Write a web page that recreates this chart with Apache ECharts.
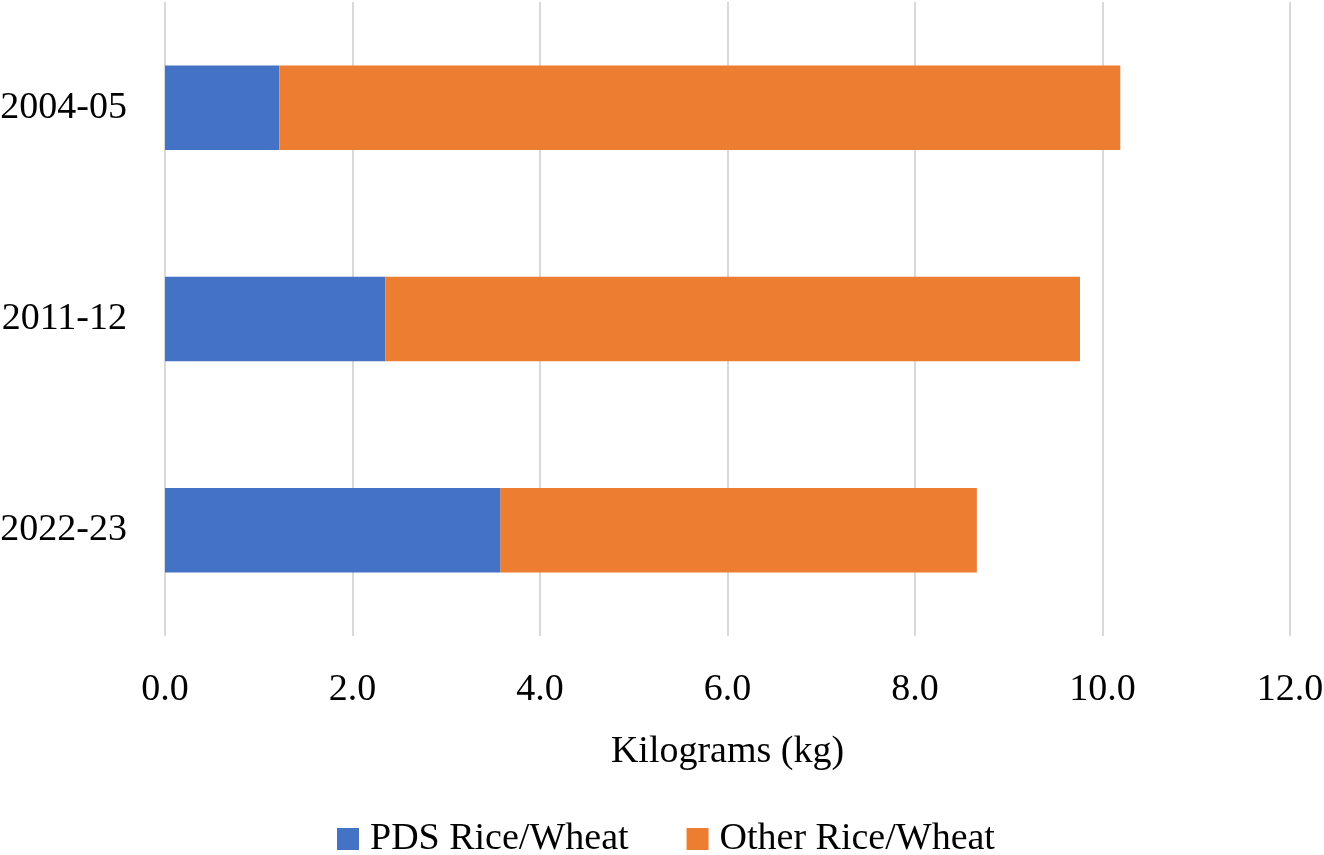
<!DOCTYPE html>
<html>
<head>
<meta charset="utf-8">
<script src="https://cdn.jsdelivr.net/npm/echarts@6/dist/echarts.min.js"></script>
<style>
html,body{margin:0;padding:0;background:#fff;}
#chart{width:1324px;height:855px;}
</style>
</head>
<body>
<div id="chart"></div>
<script>
const categories = ['2004-05', '2011-12', '2022-23'];
const pdsValues = [1.22, 2.35, 3.58];
const otherValues = [8.97, 7.41, 5.08];
const seriesNames = ['PDS Rice/Wheat', 'Other Rice/Wheat'];
const axisTitle = 'Kilograms (kg)';

const FONT = '"Liberation Serif", "Times New Roman", serif';
const chart = echarts.init(document.getElementById('chart'));
chart.setOption({
  backgroundColor: '#ffffff',
  animation: false,
  textStyle: { fontFamily: FONT, color: '#000' },
  grid: { left: 165, right: 34, top: 2, bottom: 219, containLabel: false, outerBoundsMode: 'none' },
  legend: {
    top: 815,
    left: 332,
    icon: 'rect',
    itemWidth: 22,
    itemHeight: 22,
    itemGap: 58,
    textStyle: { fontFamily: FONT, fontSize: 38, color: '#000', padding: [0, 0, 0, 6] },
    data: seriesNames
  },
  xAxis: {
    type: 'value',
    min: 0,
    max: 12,
    interval: 2,
    name: axisTitle,
    nameLocation: 'middle',
    nameGap: 97,
    nameTextStyle: { fontFamily: FONT, fontSize: 38, color: '#000' },
    axisLine: { show: false },
    axisTick: { show: false },
    axisLabel: {
      fontFamily: FONT, fontSize: 38, color: '#000', margin: 35,
      formatter: v => v.toFixed(1)
    },
    splitLine: { show: true, lineStyle: { color: '#D9D9D9', width: 2 } }
  },
  yAxis: {
    type: 'category',
    inverse: true,
    data: categories,
    axisLine: { show: false },
    axisTick: { show: false },
    axisLabel: { fontFamily: FONT, fontSize: 38, color: '#000', margin: 38 }
  },
  series: [
    {
      name: seriesNames[0], type: 'bar', stack: 'total', barWidth: '40%',
      itemStyle: { color: '#4472C4' },
      data: pdsValues
    },
    {
      name: seriesNames[1], type: 'bar', stack: 'total', barWidth: '40%',
      itemStyle: { color: '#ED7D31' },
      data: otherValues
    }
  ]
});
</script>
</body>
</html>
